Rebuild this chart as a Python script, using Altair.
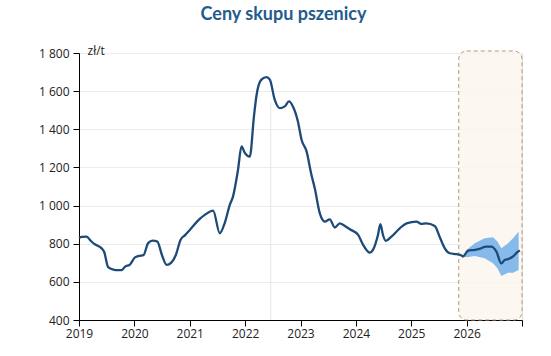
import altair as alt
import pandas as pd

# Historical + forecast central path (date, zł/t)
hist_dates = [
    "2019-01-01", "2019-01-20", "2019-02-20", "2019-03-20", "2019-04-15", "2019-05-15",
    "2019-06-15", "2019-07-12", "2019-08-15", "2019-09-15", "2019-10-10", "2019-11-01",
    "2019-12-01", "2020-01-05", "2020-02-01", "2020-03-01", "2020-04-01", "2020-05-01",
    "2020-06-01", "2020-07-01", "2020-08-01", "2020-09-01", "2020-10-01", "2020-11-01",
    "2020-12-01", "2021-01-01", "2021-03-08", "2021-04-10", "2021-06-04", "2021-07-18",
    "2021-08-19", "2021-09-22", "2021-10-13", "2021-11-15", "2021-12-08", "2021-12-31",
    "2022-02-01", "2022-02-28", "2022-03-16", "2022-04-18", "2022-05-22", "2022-06-13",
    "2022-07-15", "2022-08-17", "2022-09-19", "2022-10-17", "2022-11-12", "2022-12-15",
    "2023-01-08", "2023-02-10", "2023-03-14", "2023-04-05", "2023-05-08", "2023-06-10",
    "2023-07-13", "2023-08-15", "2023-09-17", "2023-10-20", "2023-11-22", "2024-01-16",
    "2024-02-18", "2024-04-02", "2024-04-23", "2024-05-26", "2024-06-11", "2024-06-28",
    "2024-07-16", "2024-08-23", "2024-10-17", "2024-12-01", "2025-02-05", "2025-03-08",
    "2025-04-10", "2025-06-05", "2025-07-07", "2025-08-10", "2025-09-12", "2025-10-26",
    "2025-12-04",
]
hist_values = [
    830, 836, 837, 815, 797, 785,
    759, 677, 664, 661, 662, 680,
    689, 728, 736, 740, 803, 816,
    811, 741, 689, 701, 741, 820,
    845, 872, 930, 951, 974, 855,
    907, 1004, 1047, 1187, 1310, 1275,
    1257, 1467, 1572, 1660, 1673, 1660,
    1555, 1511, 1520, 1546, 1520, 1441,
    1345, 1284, 1161, 1091, 960, 916,
    928, 885, 907, 893, 876, 846,
    794, 753, 768, 846, 902, 846,
    815, 837, 881, 907, 916, 904,
    907, 893, 837, 776, 750, 745,
    736,
]

fc_dates = [
    "2025-12-08", "2026-01-11", "2026-02-25", "2026-03-27", "2026-05-11", "2026-06-13",
    "2026-07-16", "2026-08-18", "2026-09-09", "2026-10-01", "2026-11-03", "2026-12-06",
    "2026-12-18",
]
fc_values = [733, 764, 768, 773, 785, 785, 759, 697, 715, 719, 733, 759, 765]

band_dates = [
    "2025-12-08", "2026-01-01", "2026-02-24", "2026-04-29", "2026-06-24", "2026-07-23",
    "2026-08-18", "2026-10-01", "2026-11-03", "2026-12-10",
]
band_low = [733, 729, 736, 724, 697, 671, 631, 648, 648, 662]
band_high = [733, 768, 802, 829, 834, 811, 776, 802, 829, 864]

box_start, box_end = "2025-11-10", "2027-01-01"
marker_date = "2022-06-19"
marker_low, marker_high = 400, 1540

years = list(range(2019, 2028))
y_ticks = [400, 600, 800, 1000, 1200, 1400, 1600, 1800]


def dec_year(s):
    d = pd.Timestamp(s)
    n = 366 if d.is_leap_year else 365
    return d.year + (d.dayofyear - 1) / n


line_df = pd.DataFrame({
    "t": [dec_year(d) for d in hist_dates + fc_dates],
    "v": hist_values + fc_values,
})
band_df = pd.DataFrame({
    "t": [dec_year(d) for d in band_dates],
    "lo": band_low,
    "hi": band_high,
})
box_df = pd.DataFrame({"t": [dec_year(box_start)], "t2": [dec_year(box_end)]})
marker_df = pd.DataFrame({"t": [dec_year(marker_date)], "lo": [marker_low], "hi": [marker_high]})

FONT = "Open Sans"
xscale = alt.Scale(domain=[2019, 2027], nice=False, zero=False)
yscale = alt.Scale(domain=[400, 1800], nice=False, zero=False)

x_axis = alt.Axis(
    values=years, format="d",
    labelExpr="datum.value == 2027 ? '' : datum.label",
    grid=False, domainColor="#000000", tickColor="#000000", tickSize=6,
    labelFont=FONT, labelFontSize=12, labelColor="#222222", labelPadding=2,
    title=None, labelFlush=False, labelOverlap=False,
)
y_axis = alt.Axis(
    values=y_ticks,
    labelExpr="replace(format(datum.value, ','), ',', ' ')",
    grid=True, gridColor="#ececec", gridWidth=1,
    domainColor="#000000", tickColor="#000000", tickSize=6,
    labelFont=FONT, labelFontSize=12, labelColor="#222222", labelPadding=4,
    labelOverlap=False, labelFlush=False,
    title="zł/t", titleAngle=0, titleX=8, titleY=-3, titleAlign="left",
    titleBaseline="middle", titleFont=FONT, titleFontSize=12, titleFontWeight="normal",
    titleColor="#222222",
)


def X(field):
    return alt.X(field, type="quantitative", scale=xscale, axis=x_axis)


def Y(field):
    return alt.Y(field, type="quantitative", scale=yscale, axis=y_axis)


box = alt.Chart(box_df).mark_rect(
    fill="#fcf7ef", fillOpacity=0.85, stroke="#b69a74", strokeWidth=1,
    strokeDash=[4, 3], cornerRadius=8,
).encode(
    x=X("t"),
    x2="t2:Q",
    y=alt.value(-2),
    y2=alt.value(267),
)

marker = alt.Chart(marker_df).mark_rule(color="#dfe9ef", strokeWidth=1).encode(
    x=X("t"),
    y=Y("lo"),
    y2="hi:Q",
)

band = alt.Chart(band_df).mark_area(color="#7fb6ea", opacity=0.95, interpolate="linear").encode(
    x=X("t"),
    y=Y("lo"),
    y2="hi:Q",
)

line = alt.Chart(line_df).mark_line(color="#1d4a78", strokeWidth=2.3, interpolate="monotone").encode(
    x=X("t"),
    y=Y("v"),
)

chart = alt.layer(box, marker, band, line).properties(
    width=443,
    height=267,
    title=alt.TitleParams(
        "Ceny skupu pszenicy", font="Lato", fontSize=18, fontWeight="bold",
        color="#245b8c", anchor="middle", dx=-17, offset=20,
    ),
    autosize=alt.AutoSizeParams(type="none"),
    padding={"left": 79, "top": 53, "right": 29, "bottom": 36},
).configure_view(stroke=None).configure(background="#ffffff")

chart.save("out.html", embed_options={"renderer": "svg", "actions": False})
